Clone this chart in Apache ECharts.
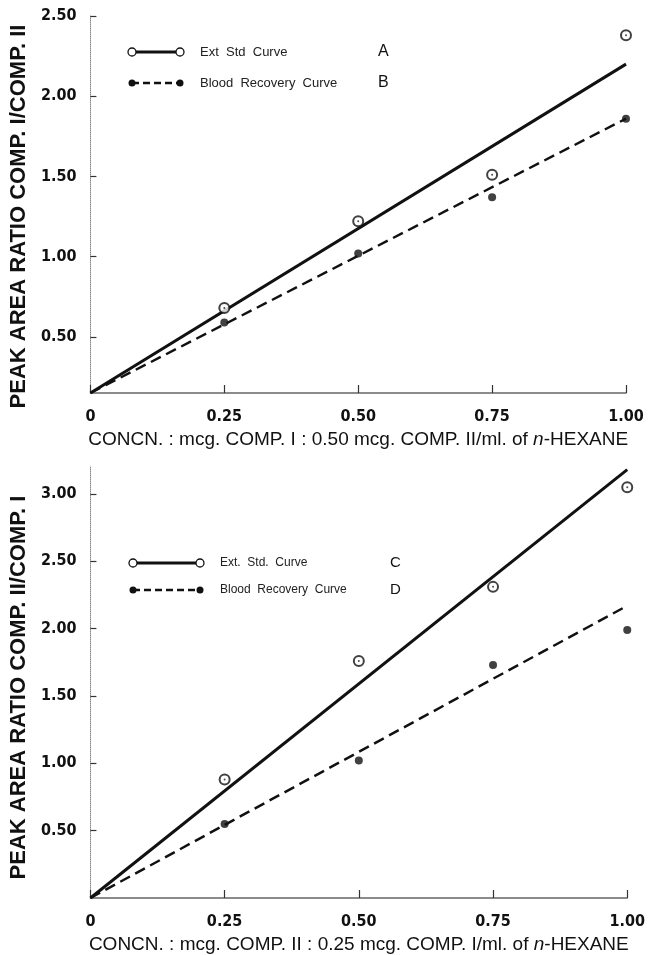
<!DOCTYPE html>
<html>
<head>
<meta charset="utf-8">
<script src="https://cdn.jsdelivr.net/npm/echarts@6/dist/echarts.min.js"></script>
<style>
  html, body { margin: 0; padding: 0; background: #fff; }
  #chart { width: 648px; height: 955px; }
</style>
</head>
<body>
<div id="chart"></div>
<script>
// x values (concentration, mcg)
const conc = [0.25, 0.5, 0.75, 1.0];
const xTicks = [0, 0.25, 0.5, 0.75, 1.0];

// top panel: COMP. I / COMP. II
const extStdA = [0.68, 1.22, 1.51, 2.38];
const bloodB = [0.59, 1.02, 1.37, 1.86];
const fitA = [0.15, 2.20]; // fitted line at conc 0 and 1.0
const fitB = [0.15, 1.86];
const yTicksTop = [0.5, 1.0, 1.5, 2.0, 2.5];

// bottom panel: COMP. II / COMP. I
const extStdC = [0.88, 1.76, 2.31, 3.05];
const bloodD = [0.55, 1.02, 1.73, 1.99];
const fitC = [0, 3.18];
const fitD = [0, 2.17];
const yTicksBottom = [0.5, 1.0, 1.5, 2.0, 2.5, 3.0];

const numFont = '"Liberation Sans Narrow", "DejaVu Sans Condensed", sans-serif';
const txtFont = '"Liberation Sans", Arial, sans-serif';

function pts(ys) {
  return conc.map((c, i) => [c, ys[i]]);
}
function fit(ends) {
  return [[0, ends[0]], [1, ends[1]]];
}

function xAxis(grid, title) {
  return {
    type: 'value', gridIndex: grid, min: 0, max: 1, interval: 0.25,
    axisLine: { lineStyle: { color: '#666', width: 1.5 } },
    axisTick: { inside: true, length: 8, lineStyle: { color: '#333', width: 1.2 } },
    splitLine: { show: false },
    axisLabel: {
      margin: 16, fontSize: 16, fontWeight: 'bold', fontFamily: numFont, color: '#111',
      customValues: xTicks,
      formatter: v => v === 0 ? '0' : v.toFixed(2)
    },
    name: title, nameLocation: 'middle', nameGap: 37,
    nameTextStyle: {
      fontSize: 19, fontFamily: txtFont, color: '#111',
      rich: { i: { fontStyle: 'italic', fontSize: 19, fontFamily: txtFont, color: '#111' } }
    }
  };
}

function yAxis(grid, min, max, ticks, title, gap, pad) {
  return {
    type: 'value', gridIndex: grid, min: min, max: max,
    axisLine: { show: true, lineStyle: { color: '#888', width: 1, type: 'dotted' } },
    axisTick: { show: true, inside: true, length: 6, customValues: ticks, lineStyle: { color: '#333', width: 1.2 } },
    splitLine: { show: false },
    axisLabel: {
      margin: 14, fontSize: 16, fontWeight: 'bold', fontFamily: numFont, color: '#111',
      customValues: ticks, formatter: v => v.toFixed(2)
    },
    name: title, nameLocation: 'middle', nameRotate: 90, nameGap: gap,
    nameTextStyle: { fontSize: 22, fontWeight: 'bold', fontFamily: txtFont, color: '#111', padding: pad }
  };
}

function circles(grid, ys) {
  return [{
    type: 'scatter', xAxisIndex: grid, yAxisIndex: grid, data: pts(ys),
    symbol: 'emptyCircle', symbolSize: 10,
    itemStyle: { color: '#111', borderWidth: 1.3 }, z: 5
  }, {
    type: 'scatter', xAxisIndex: grid, yAxisIndex: grid, data: pts(ys),
    symbol: 'circle', symbolSize: 2, itemStyle: { color: '#222' }, z: 6
  }];
}
function dots(grid, ys) {
  return {
    type: 'scatter', xAxisIndex: grid, yAxisIndex: grid, data: pts(ys),
    symbol: 'circle', symbolSize: 8, itemStyle: { color: '#111' }, z: 5
  };
}
function line(grid, ends, dashed) {
  return {
    type: 'line', xAxisIndex: grid, yAxisIndex: grid, data: fit(ends),
    showSymbol: false, silent: true,
    lineStyle: dashed ? { color: '#111', width: 2.5, type: [11, 6] } : { color: '#111', width: 3 }
  };
}

// legend drawn by hand: line with end markers, label, letter
function legendRow(x1, x2, y, filled, label, letter, textX, letterX, fs) {
  const els = [{
    type: 'line', shape: { x1: x1, y1: y, x2: x2, y2: y },
    style: filled ? { stroke: '#111', lineWidth: 2.5, lineDash: [7, 4] } : { stroke: '#111', lineWidth: 3 }
  }];
  [x1, x2].forEach(cx => {
    els.push({
      type: 'circle', shape: { cx: cx, cy: y, r: filled ? 3.5 : 4 },
      style: filled ? { fill: '#111' } : { fill: '#fff', stroke: '#111', lineWidth: 1.3 }
    });
  });
  els.push({
    type: 'text', x: textX, y: y,
    style: { text: label, fontSize: fs, fontFamily: txtFont, fill: '#222', verticalAlign: 'middle' }
  });
  els.push({
    type: 'text', x: letterX, y: y,
    style: { text: letter, fontSize: fs + 3, fontFamily: txtFont, fill: '#111', verticalAlign: 'middle' }
  });
  return els;
}

const chart = echarts.init(document.getElementById('chart'), null, { renderer: 'canvas' });
chart.setOption({
  animation: false,
  backgroundColor: '#fff',
  grid: [
    { left: 79, width: 547, top: 16, height: 377 },
    { left: 83, width: 546, top: 467, height: 435 }
  ],
  xAxis: [
    xAxis(0, 'CONCN. : mcg. COMP. I : 0.50 mcg. COMP. II/ml. of {i|n}-HEXANE'),
    xAxis(1, 'CONCN. : mcg. COMP. II : 0.25 mcg. COMP. I/ml. of {i|n}-HEXANE')
  ],
  yAxis: [
    yAxis(0, 0.15, 2.5, yTicksTop, 'PEAK AREA RATIO COMP. I/COMP. II', 38, [0, 24, 0, 0]),
    yAxis(1, 0, 3.2, yTicksBottom, 'PEAK AREA RATIO COMP. II/COMP. I', 42, [0, 10, 0, 0])
  ],
  series: [
    line(0, fitA, false),
    line(0, fitB, true),
    ...circles(0, extStdA),
    dots(0, bloodB),
    line(1, fitC, false),
    line(1, fitD, true),
    ...circles(1, extStdC),
    dots(1, bloodD)
  ],
  graphic: [
    ...legendRow(132, 180, 52, false, 'Ext  Std  Curve', 'A', 200, 378, 13),
    ...legendRow(132, 180, 83, true, 'Blood  Recovery  Curve', 'B', 200, 378, 13),
    ...legendRow(133, 200, 563, false, 'Ext.  Std.  Curve', 'C', 220, 390, 12),
    ...legendRow(133, 200, 590, true, 'Blood  Recovery  Curve', 'D', 220, 390, 12)
  ]
});
</script>
</body>
</html>
